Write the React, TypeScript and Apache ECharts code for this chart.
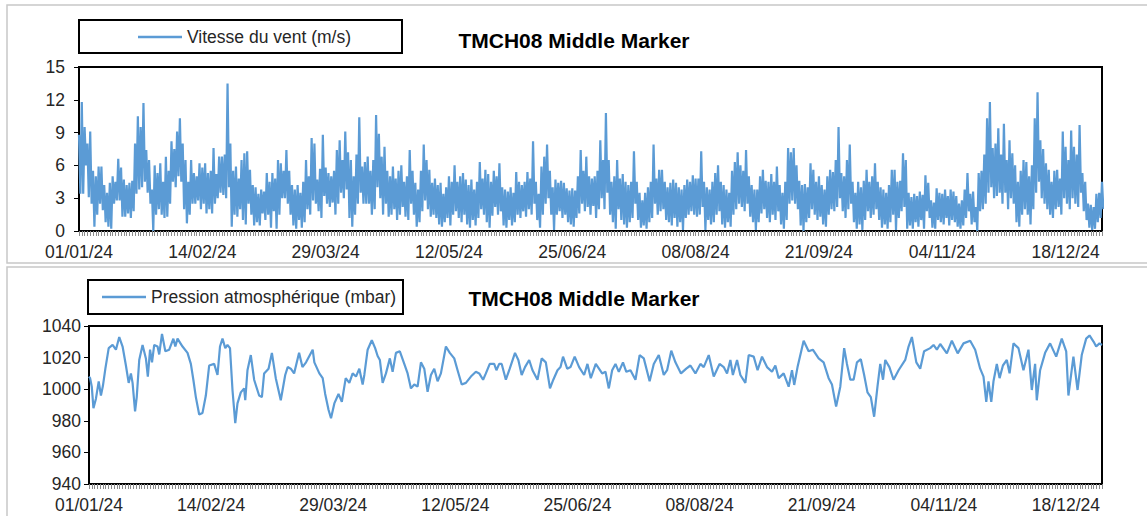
import React, { useEffect, useRef } from "react";
import * as echarts from "echarts";

// ---------- DATA ----------
const chartTitle = "TMCH08 Middle Marker";
const windName = "Vitesse du vent (m/s)";
const pressureName = "Pression atmosphérique (mbar)";

// tick labels every 44 days from 01/01/24
const xTickLabels = ["01/01/24", "14/02/24", "29/03/24", "12/05/24", "25/06/24", "08/08/24", "21/09/24", "04/11/24", "18/12/24"];

// daily maximum wind speed (m/s), day 0 = 01/01/24
const windHigh = [
  8.8, 11.8, 9.5, 8, 9.1, 5.5, 5, 5.9, 5.9, 4.2,
  3.5, 4.4, 5, 4.5, 6.6, 5.8, 4.7, 4.2, 4.4, 4.6,
  8, 10.5, 9.5, 11.7, 7.4, 6.5, 3.8, 6, 5.3, 6.2,
  4.5, 6.8, 5.5, 8.2, 7.5, 9.1, 10.3, 8, 6.5, 4.5,
  6.5, 5.3, 5, 6.2, 5.8, 6.2, 5.3, 5.5, 7.6, 5.2,
  6.8, 6.8, 7, 13.5, 8, 5.5, 5.9, 4.8, 6.5, 7.1,
  7.3, 5.6, 4.2, 4, 3.4, 3.8, 3.6, 5.3, 4.5, 5.3,
  4.8, 6.5, 6.2, 5.5, 7.4, 5.5, 4.2, 3.8, 4.2, 3.5,
  4.5, 6.5, 5, 8.5, 8, 4.7, 5.7, 8.8, 5.8, 5.3,
  5, 5.5, 7.4, 8.3, 6.5, 9.1, 7.2, 6.5, 5, 7,
  10.4, 5.9, 6.3, 6.8, 5.5, 6.5, 10.6, 8.9, 6.8, 7.7,
  5.5, 5, 5.9, 4.8, 5.5, 6, 4.5, 5, 7.4, 5.5,
  4.4, 3.8, 5.5, 7.9, 6.5, 5.6, 4.4, 4.8, 4.2, 4.4,
  3.4, 4, 5, 4.5, 6, 4.5, 5, 5.3, 4.7, 4.2,
  4.7, 3.8, 4.5, 6.3, 4.8, 5.6, 5.2, 4.5, 5.5, 5,
  6.2, 4, 3.8, 3.6, 4, 3.5, 5.4, 4.5, 4.2, 4.5,
  5.4, 4.8, 8.2, 4.5, 3.4, 5.9, 6.8, 7.9, 5.5, 4,
  4.7, 4.4, 4.6, 4.4, 3.9, 3.7, 3.9, 3.7, 5, 7.4,
  5.5, 6.8, 5, 4.8, 5, 5.5, 8.3, 6.5, 10.8, 6.5,
  4.5, 5, 6.5, 4.8, 5.2, 4.5, 4.2, 4.5, 7.3, 4.5,
  3.5, 2.8, 3.5, 4, 4.5, 7.9, 4.8, 5.6, 5.6, 4.5,
  4, 4.4, 4.7, 4.4, 4, 3.8, 4.2, 4.7, 4.5, 5.1,
  4.8, 4.8, 7.3, 4.5, 4, 3.8, 4.5, 5.3, 6, 4.5,
  4.2, 3.8, 3.5, 5.5, 6.3, 7.2, 6, 5.5, 7.4, 5,
  4.2, 3.8, 3.8, 5, 5.6, 4.6, 4.5, 5.2, 4.5, 5.9,
  4.2, 3.5, 4.5, 7.6, 7.2, 7.6, 6, 4.6, 4.2, 4.3,
  4, 6.2, 5.6, 4.5, 5, 4.2, 3.8, 5, 5.6, 5.4,
  6.5, 9.5, 5.3, 5, 6.5, 7.9, 4.5, 3.5, 4.5, 4,
  4.6, 5.6, 4.5, 5, 6.2, 4.5, 4, 3.8, 3.5, 4.2,
  5.6, 5.6, 4.5, 4.6, 7.1, 6.5, 3.5, 3.1, 3.4, 3.2,
  3.6, 3.3, 5.1, 4.4, 2.8, 2.6, 3.9, 3.5, 3.4, 3.8,
  3.2, 3.8, 3.6, 3.2, 2.5, 2.8, 3.8, 5.3, 3.4, 3.6,
  2.2, 5.3, 5.5, 7, 10.3, 11.8, 7.6, 8, 9.4, 7,
  9.8, 6.5, 8.3, 7.1, 6, 4.5, 5.5, 6.5, 6.3, 5,
  6, 10.3, 12.7, 8.3, 7.5, 6.2, 5.6, 4.5, 5.5, 5.6,
  4.8, 9.1, 7.7, 6.5, 9.2, 7.7, 7, 9.7, 5.3, 4.5,
  2.5, 2.4, 2.2, 3.4, 3.5, 4.5,
];

// daily minimum wind speed (m/s)
const windLow = [
  3.4, 3.4, 6, 3.1, 2.5, 0.4, 1.5, 2.5, 1.9, 0.8,
  0.4, 0.2, 2.5, 2.8, 2.8, 1.3, 1.3, 1.6, 1.2, 1.8,
  3.4, 3.8, 4, 4.5, 3.5, 2.5, 0, 1.5, 2, 1.5,
  1.2, 1.3, 2.5, 4.5, 4, 5, 4.5, 2, 0.7, 1.5,
  2.5, 2.5, 2.8, 2, 2.5, 1.6, 2, 1.6, 2.5, 3,
  3.5, 3.3, 3, 4, 0.4, 1.5, 1.3, 2, 1, 0.6,
  2.5, 1.5, 0.5, 0.8, 0.5, 1.6, 1, 1.5, 0.3, 1.8,
  0.2, 1.5, 3, 3, 2.5, 1.5, 0.5, 0.2, 1, 0.3,
  0.8, 2, 1.5, 2.8, 2.5, 1.8, 1.2, 3.2, 2.5, 2.2,
  2.6, 1.5, 2.5, 3.5, 3, 3.8, 1.2, 0.4, 1.5, 2.5,
  3.5, 2.5, 2.5, 2.5, 1.5, 2, 4, 3, 1.5, 2.5,
  1.3, 1.5, 2, 1, 1.5, 2.2, 1.3, 1, 2.5, 1.5,
  0.4, 0.8, 1.8, 2.8, 2, 1.3, 1.5, 1.2, 0.6, 0.4,
  0.8, 1.2, 0.5, 1.5, 1.8, 1.2, 0.8, 1.5, 0.6, 0.3,
  1, 0.5, 1.2, 2, 1.5, 0.8, 0.3, 1.4, 2.2, 1.5,
  1.8, 0.5, 0.3, 1, 0.5, 0.8, 1.5, 1.2, 1.8, 1.3,
  2, 1.5, 2.5, 1, 0.3, 1.5, 2.5, 3, 1.5, 0.1,
  1.5, 1.8, 1.2, 1.5, 0.8, 0.6, 0.4, 1.2, 1.6, 2.5,
  1.8, 2.2, 1.5, 2.3, 1.2, 2, 3, 2, 3.5, 1.5,
  0.8, 0.2, 2, 1, 0.6, 0.3, 0.8, 1.2, 2.5, 1,
  0.3, 0.5, 0.2, 0.8, 1.2, 2.5, 1.5, 1.8, 2, 1,
  0.8, 0.5, 1.2, 0.4, 0.8, 0.1, 1.2, 1.5, 1.8, 1.5,
  1.3, 1.5, 2.2, 0.1, 1, 0.6, 0.8, 1.5, 1.8, 0.6,
  0.3, 0.8, 0.4, 1.5, 2, 2.5, 2.2, 1.8, 2.5, 1.3,
  0.8, 0.1, 0.8, 1.6, 2, 1.2, 0.8, 1.5, 1, 1.8,
  0.6, 0.2, 1, 2.5, 2.8, 2.5, 2, 0.5, 0, 0.8,
  1.2, 2, 1.5, 1, 1.3, 0.6, 0.4, 1.5, 2, 1.8,
  2.2, 3, 1.8, 1.2, 2, 2.5, 0.8, 0.2, 0.6, 0.1,
  1, 1.8, 1.2, 1.5, 2, 1, 0.3, 0.6, 0.2, 0.8,
  1.5, 0.1, 1.2, 1.8, 2.2, 0.2, 0.5, 0.2, 0.8, 0.4,
  1, 0.2, 1.8, 1.2, 0.3, 0.2, 1, 0.8, 0.6, 1.2,
  0.5, 1, 0.8, 0.4, 0.2, 0.5, 1.2, 1.8, 0.6, 0.8,
  0, 1.8, 2, 2.5, 3.5, 4, 3, 3.2, 3.5, 2.5,
  3.5, 2, 3, 2.5, 0.8, 0.4, 1.5, 2, 1.5, 0.6,
  2, 3.5, 4.5, 3, 2.5, 2, 1.5, 1.2, 2, 2.2,
  1.5, 3, 2.5, 2, 3, 2.5, 2.2, 3.5, 1.8, 1,
  0.3, 0.1, 0.2, 0.8, 1.2, 2,
];

// atmospheric pressure (mbar): [day since 01/01/24, value]
const pressurePoints: [number, number][] = [
  [0, 1008], [0.4, 1007], [1, 1001.6], [1.6, 988], [2.5, 994], [3.5, 1005], [4.3, 996], [5, 1002], [5.9, 1013], [7.1, 1026],
  [8.5, 1028], [9.7, 1025], [10.9, 1033], [12.1, 1027], [13.3, 1015], [14.3, 1004], [15.1, 1010], [15.7, 1004], [16.6, 986], [17.2, 995],
  [18.1, 1018.5], [19.3, 1028], [20.5, 1019.5], [21.2, 1008], [22, 1025], [22.7, 1017], [23.5, 1028], [24.7, 1027], [25.3, 1022], [26.3, 1035],
  [27.5, 1024], [28.9, 1025], [30.4, 1032], [31.1, 1027], [31.9, 1032], [33.7, 1027], [35.5, 1023], [36.7, 1016], [37.6, 1006], [38.5, 995],
  [39.7, 984], [40.9, 985], [42.1, 996], [43.3, 1015], [45.1, 1016], [46.3, 1009], [47.2, 1027], [48.1, 1032], [49.1, 1026], [49.9, 1028],
  [50.8, 1026], [51.7, 999.5], [52.7, 978.5], [53.5, 991], [54.7, 998], [55.9, 1000.5], [56.3, 993], [57.1, 1012], [58.3, 1021.6], [59.5, 1006],
  [61.3, 996], [62.3, 995], [63.1, 1010], [64.7, 1013], [65.9, 1023], [67.3, 1007], [69.1, 993], [70.7, 1009], [71.6, 1014], [72.7, 1013],
  [73.9, 1010], [75.7, 1023], [76.9, 1014], [78.2, 1017], [80.6, 1025], [81.2, 1017], [83, 1010], [84.2, 1007], [85.1, 997], [86.3, 987],
  [87.2, 981.6], [88.4, 991], [89.9, 997], [91.1, 992], [92.5, 1007], [93.8, 1004], [95, 1010], [96.2, 1008], [97.4, 1013], [98.6, 1003],
  [99.2, 1009], [100.4, 1025], [101.9, 1031], [103.1, 1026], [104, 1021], [104.8, 1018.5], [105.8, 1004], [107, 1010], [108.4, 1019.5], [109.4, 1011],
  [110.6, 1023], [112, 1024], [113.6, 1016], [114.8, 1010], [116, 1000.5], [117.2, 1003], [118.4, 1001.6], [119.6, 1017], [120.8, 1013], [122, 998.4],
  [123.2, 1009], [124.4, 1013], [125.6, 1005], [126.8, 1010], [128.6, 1027], [130, 1023], [131.6, 1019.5], [132.8, 1012], [134.3, 1003], [135.8, 1004],
  [137.6, 1008], [139.4, 1011], [140.6, 1010], [142, 1006], [143, 1010], [144.4, 1016], [146, 1016], [146.8, 1012], [147.8, 1016], [148.7, 1016],
  [150.2, 1006], [151.6, 1013], [153.5, 1023], [154.7, 1018.5], [155.9, 1009], [157.1, 1014], [158.6, 1018.5], [159.8, 1012], [161.6, 1006], [163.1, 1019.5],
  [164.6, 1017], [166.1, 1000.5], [167.3, 1006], [168.8, 1012], [169.9, 1014], [170.8, 1020.6], [172.3, 1013], [173.5, 1014], [175, 1020.6], [176.6, 1014],
  [178.4, 1009], [179.6, 1016], [180.8, 1007], [182.6, 1016], [184.9, 1010], [186.1, 1011], [187.3, 1000.5], [188.5, 1012], [189.7, 1016], [190.9, 1011],
  [192.4, 1017], [193.6, 1011], [195.1, 1012], [196.9, 1006], [198.4, 1021.6], [199.9, 1019.5], [202, 1005], [203.5, 1016], [205.3, 1021.6], [207.1, 1009],
  [208.3, 1012], [209.8, 1024.4], [211.3, 1017], [213.3, 1010], [215.2, 1013], [216.7, 1015], [218.5, 1010], [220.3, 1016], [221.5, 1014], [223.3, 1021.6],
  [225.1, 1008], [227.2, 1016], [228.7, 1014], [229.9, 1010], [231.1, 1018.5], [232, 1009], [233.5, 1018.5], [234.7, 1009], [236.5, 1004], [237.7, 1021.6],
  [239.5, 1020.6], [240.9, 1012], [242.5, 1020.6], [244.3, 1014], [246.1, 1011], [247.3, 1015], [248.5, 1007], [250.3, 1010], [252.1, 1001.6], [253.3, 1012],
  [254.1, 1002.7], [255.3, 1014], [257.5, 1030.7], [259.3, 1024], [260.8, 1025], [262.9, 1019.5], [264.7, 1017], [266.5, 1007], [267.7, 1003], [269.2, 989],
  [270.7, 1001.6], [272.1, 1026], [273.1, 1016], [274.3, 1006], [275.5, 1006], [276.7, 1017], [278.1, 1019], [279.3, 1009], [280.5, 998], [281.7, 995],
  [282.9, 982.6], [284.1, 1001.6], [285.1, 1016], [286.1, 1006], [286.9, 1018.5], [288.4, 1014], [289.9, 1006], [291.7, 1012], [294.1, 1018.5], [295.3, 1027],
  [296.5, 1033], [298.1, 1017], [299.5, 1013], [300.9, 1024], [303.1, 1026], [304.3, 1028], [305.5, 1025], [306.7, 1028.6], [309.1, 1022.7], [310.9, 1030.7],
  [313, 1022.7], [315.1, 1029], [317.5, 1030.7], [319.3, 1025], [321.1, 1013], [322.3, 1008], [323.3, 992], [324.1, 1005], [325.1, 992], [325.9, 1005],
  [327.1, 1016], [328.1, 1007], [329.3, 1015], [330.7, 1018.5], [331.7, 1010], [333.1, 1029], [334.9, 1026], [336.7, 1012], [338.5, 1025], [339.7, 999.5],
  [340.9, 1016], [341.5, 993], [342.7, 1012], [344.5, 1023], [346.3, 1029], [348.5, 1020.6], [350.5, 1032], [352.1, 1024], [352.9, 996], [354.7, 1020.6],
  [356.2, 999.5], [357.7, 1021.6], [359.3, 1032], [360.5, 1034], [362, 1030], [362.9, 1027], [364.1, 1029], [365, 1028],
];

// ---------- STYLE ----------
const FONT = "Liberation Sans, Arial, sans-serif";
const BLUE = "#5B9BD5";
const LABEL = "#262626";
const LINE_ICON = "path://M0,0 L44,0 L44,2.5 L0,2.5 Z";

function labelAxis(gridIndex: number) {
  return {
    gridIndex,
    type: "value",
    min: 0,
    max: 365,
    interval: 44,
    axisLine: { show: true, lineStyle: { color: "#000", width: 2 } },
    axisTick: { show: false },
    splitLine: { show: false },
    axisLabel: {
      color: LABEL,
      fontSize: 17.5,
      fontFamily: FONT,
      margin: 12,
      showMaxLabel: false,
      formatter: (v: number) => (v % 44 === 0 ? xTickLabels[v / 44] ?? "" : ""),
    },
  };
}

function tickAxis(gridIndex: number) {
  return {
    gridIndex,
    type: "value",
    min: 0,
    max: 365,
    interval: 1,
    position: "bottom",
    axisLine: { show: false },
    axisTick: { show: true, length: 5, lineStyle: { color: "#8a8a8a", width: 1 } },
    axisLabel: { show: false },
    splitLine: { show: false },
  };
}

function legendBox(name: string, left: number, top: number) {
  return {
    data: [{ name, icon: LINE_ICON }],
    left,
    top,
    padding: 0,
    itemWidth: 44,
    itemHeight: 2.5,
    itemGap: 5,
    textStyle: { fontSize: 17.5, color: LABEL, fontFamily: FONT, padding: [0, 0, 0, 0] },
  };
}

export default function App() {
  const ref = useRef<HTMLDivElement>(null);

  useEffect(() => {
    if (!ref.current) return;
    const chart = echarts.init(ref.current, undefined, { renderer: "svg" });

    const windData: [number, number][] = [];
    windHigh.forEach((h, i) => {
      windData.push([i, h]);
      windData.push([i + 0.5, windLow[i]]);
    });

    chart.setOption({
      animation: false,
      backgroundColor: "#fff",
      textStyle: { fontFamily: FONT },
      title: [
        {
          text: chartTitle,
          left: 574,
          top: 30,
          textAlign: "center",
          padding: 0,
          textStyle: { fontSize: 21, fontWeight: "bold", color: "#000", fontFamily: FONT },
        },
        {
          text: chartTitle,
          left: 584,
          top: 288,
          textAlign: "center",
          padding: 0,
          textStyle: { fontSize: 21, fontWeight: "bold", color: "#000", fontFamily: FONT },
        },
      ],
      legend: [legendBox(windName, 138, 28), legendBox(pressureName, 102, 288)],
      graphic: [
        { type: "rect", silent: true, z: -10, shape: { x: 7, y: 5, width: 1150, height: 258 }, style: { fill: "none", stroke: "#C8C8C8", lineWidth: 1.5 } },
        { type: "rect", silent: true, z: -10, shape: { x: 7, y: 267, width: 1150, height: 260 }, style: { fill: "none", stroke: "#C8C8C8", lineWidth: 1.5 } },
        { type: "rect", silent: true, shape: { x: 79, y: 20, width: 323, height: 33 }, style: { fill: "none", stroke: "#000", lineWidth: 2 } },
        { type: "rect", silent: true, shape: { x: 88, y: 280, width: 315, height: 34 }, style: { fill: "none", stroke: "#000", lineWidth: 2 } },
      ],
      grid: [
        { left: 79, top: 67, right: 45, bottom: 285, show: true, borderColor: "#000", borderWidth: 2, containLabel: false },
        { left: 89, top: 326, right: 45, bottom: 32, show: true, borderColor: "#000", borderWidth: 2, containLabel: false },
      ],
      xAxis: [labelAxis(0), tickAxis(0), labelAxis(1), tickAxis(1)],
      yAxis: [
        {
          gridIndex: 0,
          type: "value",
          min: 0,
          max: 15,
          interval: 3,
          axisLine: { show: true, lineStyle: { color: "#000", width: 2 } },
          axisTick: { show: true, length: 5, lineStyle: { color: "#000" } },
          splitLine: { show: false },
          axisLabel: { color: LABEL, fontSize: 17.5, fontFamily: FONT, margin: 14, formatter: (v: number) => String(v) },
        },
        {
          gridIndex: 1,
          type: "value",
          min: 940,
          max: 1040,
          interval: 20,
          axisLine: { show: true, lineStyle: { color: "#000", width: 2 } },
          axisTick: { show: true, length: 5, lineStyle: { color: "#000" } },
          splitLine: { show: false },
          axisLabel: { color: LABEL, fontSize: 17.5, fontFamily: FONT, margin: 8, formatter: (v: number) => String(v) },
        },
      ],
      series: [
        {
          name: windName,
          type: "line",
          xAxisIndex: 0,
          yAxisIndex: 0,
          data: windData,
          symbol: "none",
          lineStyle: { color: BLUE, width: 2.2 },
          itemStyle: { color: BLUE },
        },
        {
          name: pressureName,
          type: "line",
          xAxisIndex: 2,
          yAxisIndex: 1,
          data: pressurePoints,
          symbol: "none",
          lineStyle: { color: BLUE, width: 2.2 },
          itemStyle: { color: BLUE },
        },
      ],
    });

    return () => chart.dispose();
  }, []);

  return (
    <div
      ref={ref}
      style={{ position: "fixed", left: 0, top: 0, width: 1147, height: 516, background: "#fff" }}
    />
  );
}
